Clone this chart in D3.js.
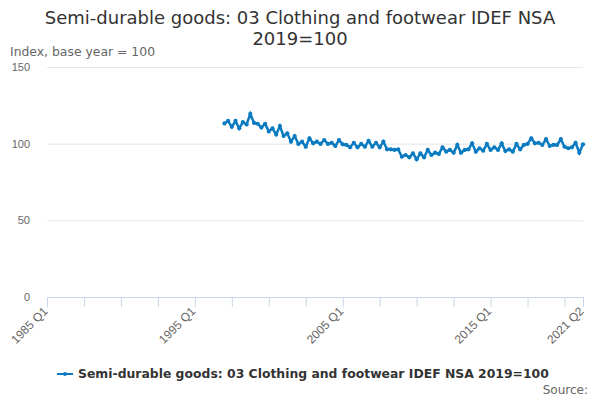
<!DOCTYPE html>
<html>
<head>
<meta charset="utf-8">
<script src="https://cdn.jsdelivr.net/npm/d3@7"></script>
<style>
  body { margin: 0; background: #fff; }
  svg { font-family: "DejaVu Sans", sans-serif; }
</style>
</head>
<body>
<div id="container"></div>
<script>
/* CONSTANTS AND GLOBALS */
const width = 600,
  height = 400,
  margin = { top: 67, bottom: 103, left: 47, right: 17 };

/* DATA */
const axisStart = { year: 1985, q: 1 };
const axisEnd = { year: 2021, q: 2 };
const seriesStart = { year: 1997, q: 1 };
const seriesName = "Semi-durable goods: 03 Clothing and footwear IDEF NSA 2019=100";
const values = [
  113.2, 114.8, 111.0, 114.8, 110.0, 114.0, 112.5, 119.5, 113.5, 113.0,
  110.5, 113.0, 108.0, 110.0, 106.0, 111.5, 105.0, 106.8, 101.3, 105.0,
  99.8, 101.3, 98.0, 103.5, 100.2, 101.3, 99.8, 102.4, 99.8, 100.6,
  98.5, 102.4, 99.6, 99.2, 97.6, 100.6, 97.6, 99.8, 98.0, 101.8,
  98.0, 100.6, 97.6, 101.3, 96.3, 96.3, 95.9, 96.3, 91.5, 92.6,
  91.1, 93.7, 89.8, 93.7, 91.1, 95.9, 92.6, 94.1, 93.3, 97.6,
  94.8, 95.9, 94.1, 99.2, 94.1, 95.9, 96.3, 100.2, 94.8, 97.0,
  95.4, 99.8, 95.9, 97.6, 95.9, 100.2, 95.2, 96.3, 94.8, 99.8,
  96.3, 99.2, 99.8, 103.5, 100.2, 100.6, 99.2, 102.9, 98.5, 99.2,
  99.2, 102.9, 98.0, 97.0, 97.6, 100.6, 94.1, 99.6
];
const yTicks = [0, 50, 100, 150];
const xLabelTicks = ["1985 Q1", "1995 Q1", "2005 Q1", "2015 Q1", "2021 Q2"];

// quarter index counted from the first axis category
const qIndex = (y, q) => (y - axisStart.year) * 4 + (q - axisStart.q);
const qLabel = i => {
  const y = axisStart.year + Math.floor((i + axisStart.q - 1) / 4);
  return `${y} Q${((i + axisStart.q - 1) % 4) + 1}`;
};
const lastIndex = qIndex(axisEnd.year, axisEnd.q);
const firstSeries = qIndex(seriesStart.year, seriesStart.q);
const data = values.map((v, i) => ({ idx: firstSeries + i, value: v }));

// SCALES
const xScale = d3.scaleLinear()
  .domain([0, lastIndex])
  .range([margin.left, width - margin.right]);

const yScale = d3.scaleLinear()
  .domain([0, 150])
  .range([height - margin.bottom, margin.top]);

// CREATE SVG CONTAINER
const svg = d3.select("#container")
  .append("svg")
  .attr("width", width)
  .attr("height", height);

// TITLE
svg.append("text")
  .attr("x", width / 2)
  .attr("y", 24)
  .attr("text-anchor", "middle")
  .style("font-size", "18px")
  .attr("fill", "#333")
  .text("Semi-durable goods: 03 Clothing and footwear IDEF NSA");
svg.append("text")
  .attr("x", width / 2)
  .attr("y", 45)
  .attr("text-anchor", "middle")
  .style("font-size", "18px")
  .attr("fill", "#333")
  .text("2019=100");

// Y-axis title
svg.append("text")
  .attr("x", 10)
  .attr("y", 56)
  .style("font-size", "12.4px")
  .attr("fill", "#666")
  .text("Index, base year = 100");

// GRIDLINES + Y LABELS
const yAxis = d3.axisLeft(yScale)
  .tickValues(yTicks)
  .tickSize(-(width - margin.left - margin.right))
  .tickPadding(17);

const yAxisGroup = svg.append("g")
  .attr("class", "yAxis")
  .attr("transform", `translate(${margin.left}, 0)`)
  .call(yAxis);
yAxisGroup.select(".domain").remove();
yAxisGroup.selectAll("line").attr("stroke", "#e6e6e6");
yAxisGroup.selectAll("text")
  .attr("fill", "#666")
  .style("font-size", "11px");

// X AXIS
const xTickVals = d3.range(0, lastIndex, 10).concat([lastIndex]);
const xAxis = d3.axisBottom(xScale)
  .tickValues(xTickVals)
  .tickSize(10)
  .tickFormat(i => xLabelTicks.includes(qLabel(i)) ? qLabel(i) : "");

const xAxisGroup = svg.append("g")
  .attr("class", "xAxis")
  .attr("transform", `translate(0, ${height - margin.bottom})`)
  .call(xAxis);
xAxisGroup.select(".domain").attr("stroke", "#ccd6eb");
xAxisGroup.selectAll("line").attr("stroke", "#ccd6eb");
xAxisGroup.selectAll("text")
  .attr("fill", "#666")
  .style("font-size", "12px")
  .attr("text-anchor", "end")
  .attr("y", 0)
  .attr("dy", "0.35em")
  .attr("transform", "translate(-2,12) rotate(-45)");

// LINE
const lineColor = "#0b7bc1";
const lineGen = d3.line()
  .x(d => xScale(d.idx))
  .y(d => yScale(d.value));

svg.append("path")
  .datum(data)
  .attr("fill", "none")
  .attr("stroke", lineColor)
  .attr("stroke-width", 2.5)
  .attr("d", lineGen);

svg.append("g")
  .selectAll("circle")
  .data(data)
  .join("circle")
  .attr("cx", d => xScale(d.idx))
  .attr("cy", d => yScale(d.value))
  .attr("r", 2.1)
  .attr("fill", lineColor);

// LEGEND
const legend = svg.append("g").attr("transform", "translate(57, 374)");
legend.append("line")
  .attr("x1", 0).attr("x2", 16)
  .attr("stroke", lineColor)
  .attr("stroke-width", 2);
legend.append("circle")
  .attr("cx", 8).attr("r", 2)
  .attr("fill", lineColor);
legend.append("text")
  .attr("x", 21)
  .attr("dy", "0.35em")
  .style("font-size", "12.4px")
  .style("font-weight", "bold")
  .attr("fill", "#333")
  .text(seriesName);

// SOURCE
svg.append("text")
  .attr("x", 588)
  .attr("y", 394)
  .attr("text-anchor", "end")
  .style("font-size", "12px")
  .attr("fill", "#666")
  .text("Source:");
</script>
</body>
</html>
